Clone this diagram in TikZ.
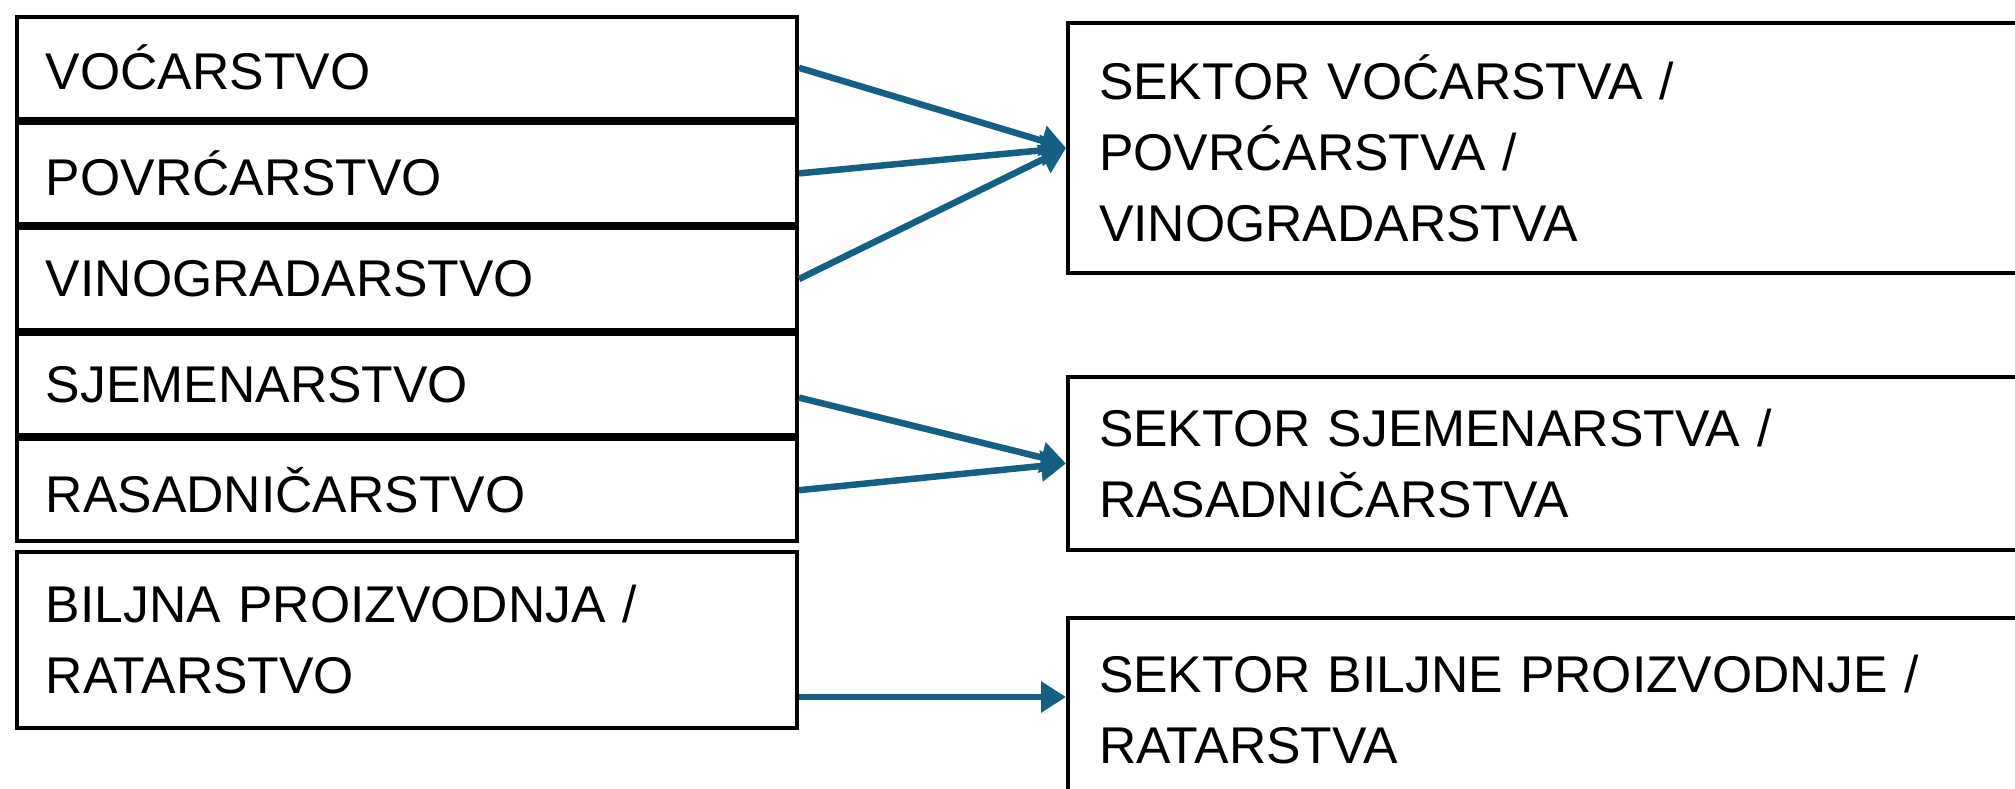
\documentclass[tikz,border=0pt]{standalone}
\usepackage{fontspec}
\setmainfont{Liberation Sans}
\usepackage{tikz}
\usetikzlibrary{positioning,arrows.meta}
\definecolor{linkblue}{HTML}{156082}
\tikzstyle{row}=[draw,line width=0.04cm,inner xsep=0.29cm,inner ysep=0pt,
  text width=7.22cm,minimum height=1.016cm,align=left]
\tikzstyle{sector}=[draw,line width=0.04cm,inner xsep=0.31cm,inner ysep=0pt,
  text width=9.76cm,align=left,anchor=north west]
\tikzstyle{link}=[draw=linkblue,line width=0.065cm,
  -{Triangle[length=0.25cm,width=0.3cm]}]
\newcommand{\newRow}[3]{\node[row,#3](#1){#2};}
\newcommand{\newSector}[4]{\node[sector,minimum height=#3](#1) at #4 {#2};}
\newcommand{\newArrow}[2]{\path[link] (#1) -- (#2);}

\begin{document}
\begin{tikzpicture}[node distance=0pt,
      font=\fontsize{14.7}{20.2}\selectfont
      ]
      \useasboundingbox (0,0) rectangle (20.15,-7.89);
      \clip (0,0) rectangle (20.15,-7.89);
      % left column
      \path (0.15,-0.15) coordinate (start);
      \node[row,anchor=north west](voc) at (start) {VOĆARSTVO};
      \newRow{pov}{POVRĆARSTVO}{below=of voc}
      \newRow{vin}{VINOGRADARSTVO}{below=of pov}
      \newRow{sje}{SJEMENARSTVO}{below=of vin}
      \newRow{ras}{RASADNIČARSTVO}{below=of sje}
      \newRow{bil}{BILJNA PROIZVODNJA /\\RATARSTVO}{below=0.07cm of ras,minimum height=1.76cm}
      % right column
      \newSector{sv}{SEKTOR VOĆARSTVA /\\POVRĆARSTVA /\\VINOGRADARSTVA}{2.5cm}{(10.66,-0.21)}
      \newSector{ss}{SEKTOR SJEMENARSTVA /\\RASADNIČARSTVA}{1.73cm}{(10.66,-3.75)}
      \newSector{sb}{SEKTOR BILJNE PROIZVODNJE /\\RATARSTVA}{1.84cm}{(10.66,-6.16)}
      % arrows
      \coordinate (bt) at ([yshift=0.13cm]sb.west);
      \newArrow{voc.east}{sv.west}
      \newArrow{pov.east}{sv.west}
      \newArrow{vin.east}{sv.west}
      \newArrow{[yshift=-0.13cm]sje.east}{ss.west}
      \newArrow{ras.east}{ss.west}
      \newArrow{bt -| bil.east}{bt}
\end{tikzpicture}
\end{document}
